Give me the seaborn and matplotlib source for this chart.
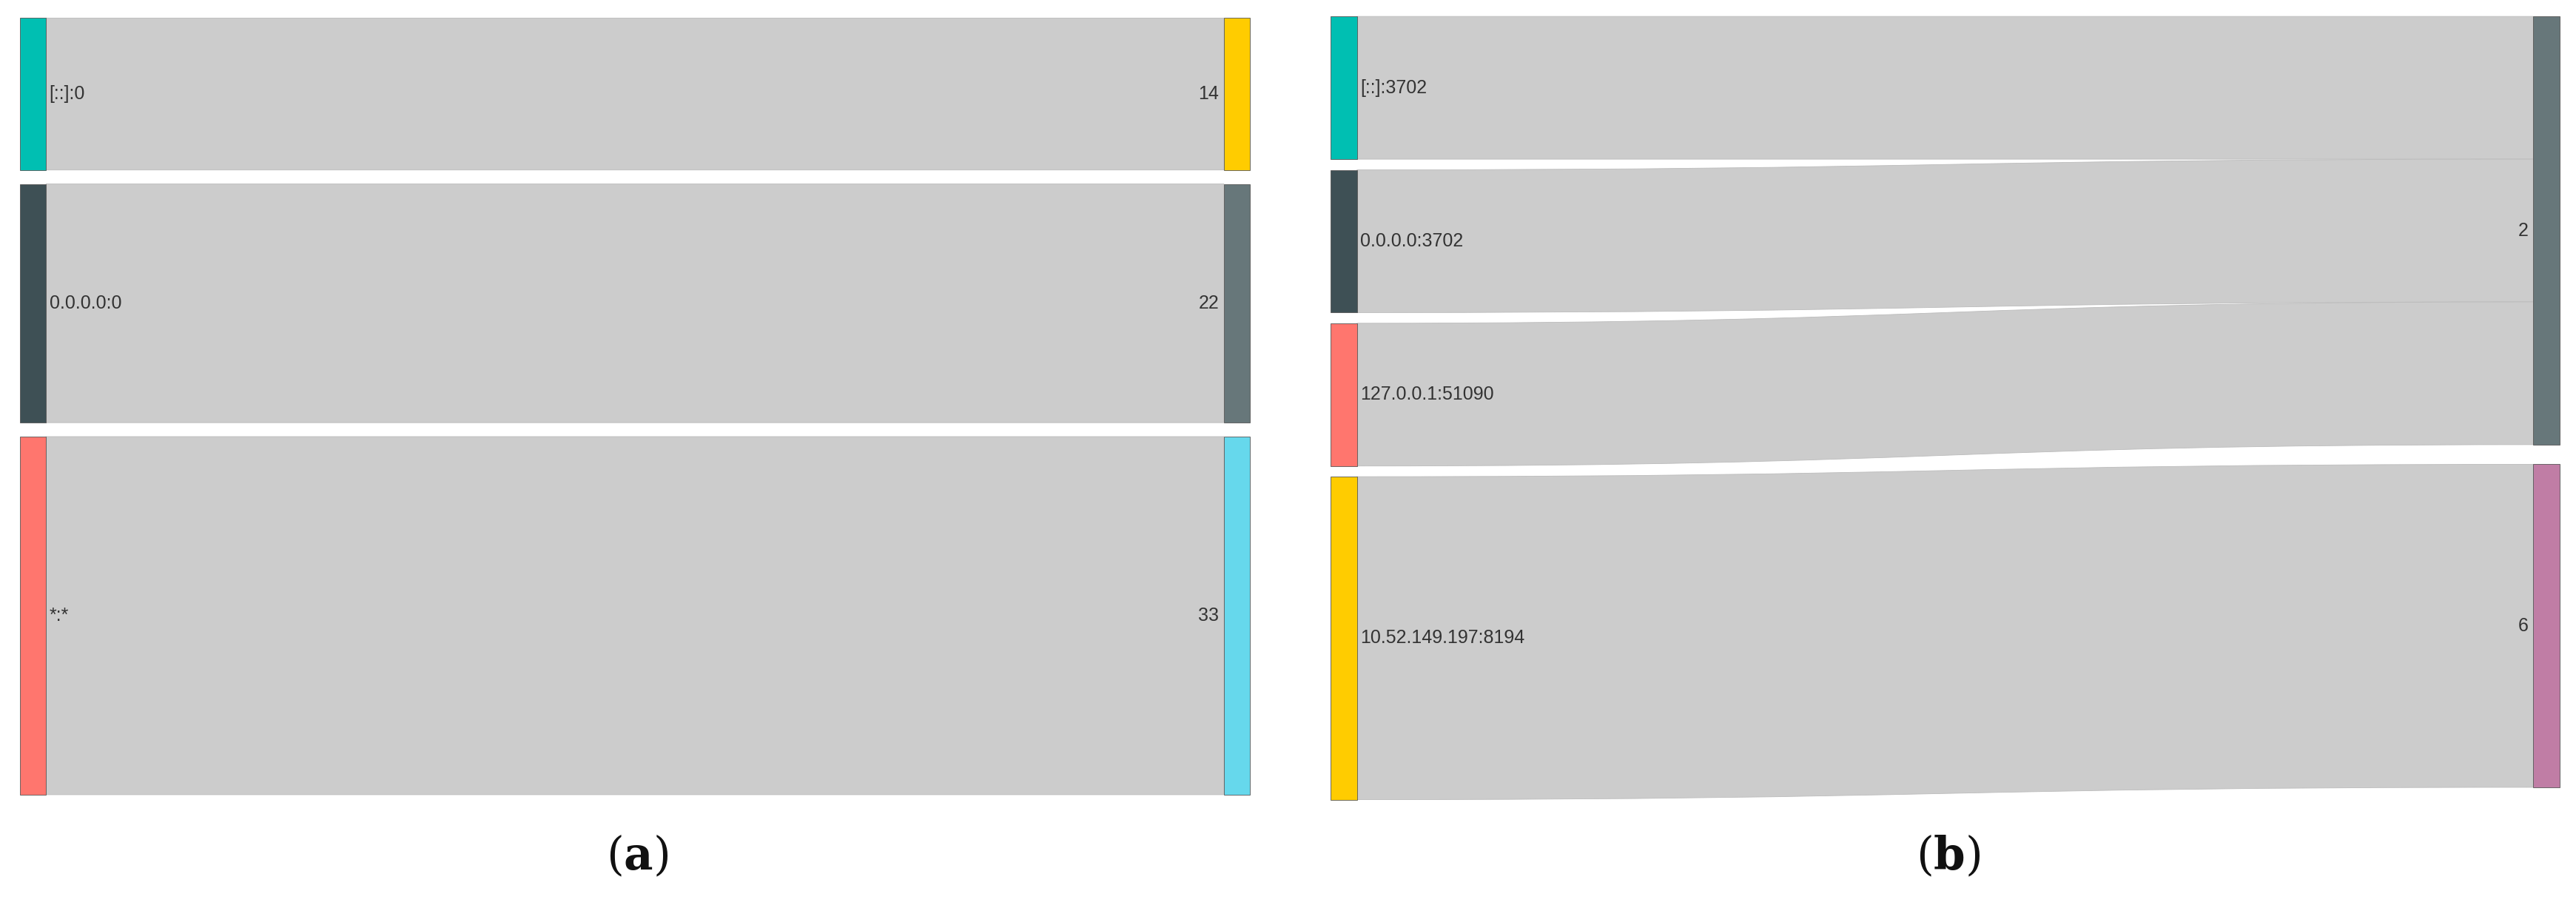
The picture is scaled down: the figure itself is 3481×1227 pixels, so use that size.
import numpy as np
import matplotlib
matplotlib.use("Agg")
import matplotlib.pyplot as plt
import seaborn as sns
from matplotlib.path import Path
from matplotlib.patches import PathPatch, Rectangle

sns.set_theme(style="white")
plt.rcParams['font.family'] = ['Liberation Sans', 'DejaVu Sans']
plt.rcParams['mathtext.fontset'] = 'dejavuserif'

# ---- data ----
a_sources = ["[::]:0", "0.0.0.0:0", "*:*"]
a_targets = ["14", "22", "33"]
a_values = [14, 22, 33]
a_src_colors = ["#00BFB2", "#3E5055", "#FF766E"]
a_tgt_colors = ["#FFCC00", "#67777A", "#66D8EC"]

b_sources = ["[::]:3702", "0.0.0.0:3702", "127.0.0.1:51090", "10.52.149.197:8194"]
b_targets = ["2", "6"]
b_link_src = [0, 1, 2, 3]
b_link_tgt = [0, 0, 0, 1]
b_values = [4.0, 4.0, 4.0, 9.05]
b_src_colors = ["#00BFB2", "#3E5055", "#FF766E", "#FFCC00"]
b_tgt_colors = ["#67777A", "#C07DA5"]

W, H = 1568, 553
fig = plt.figure(figsize=(34.81, 12.27), dpi=100)
ax = fig.add_axes([0, 0, 1, 1])
ax.set_xlim(0, W); ax.set_ylim(H, 0); ax.axis("off")

NODE_W = 16
LINK_C = "#CCCCCC"

def layout(vals, y0, y1, pad):
    scale = (y1 - y0 - pad * (len(vals) - 1)) / sum(vals)
    pos, y = [], y0
    for v in vals:
        pos.append((y, y + v * scale)); y += v * scale + pad
    return pos, scale

def ribbon(x0, x1, s0, s1, t0, t1):
    xm = (x0 + x1) / 2
    verts = [(x0, s0), (xm, s0), (xm, t0), (x1, t0), (x1, t1), (xm, t1), (xm, s1), (x0, s1), (x0, s0)]
    codes = [Path.MOVETO, Path.CURVE4, Path.CURVE4, Path.CURVE4, Path.LINETO,
             Path.CURVE4, Path.CURVE4, Path.CURVE4, Path.CLOSEPOLY]
    ax.add_patch(PathPatch(Path(verts, codes), fc=LINK_C, ec="#BBBBBB", lw=0.6, zorder=1))

def node(x, y0, y1, c):
    ax.add_patch(Rectangle((x, y0), NODE_W, y1 - y0, fc=c, ec="#555555", lw=0.6, zorder=2))

def sankey(xl, xr, y0, y1, src_names, tgt_names, link_src, link_tgt, vals, sc, tc, pad, tpad):
    src_vals = [sum(v for s, v in zip(link_src, vals) if s == i) for i in range(len(src_names))]
    tgt_vals = [sum(v for t, v in zip(link_tgt, vals) if t == j) for j in range(len(tgt_names))]
    spos, scale = layout(src_vals, y0, y1, pad)
    tpos = []
    y = y0
    for v in tgt_vals:
        tpos.append((y, y + v * scale)); y += v * scale + tpad
    soff = [p[0] for p in spos]; toff = [p[0] for p in tpos]
    for s, t, v in zip(link_src, link_tgt, vals):
        h = v * scale
        ribbon(xl + NODE_W, xr, soff[s], soff[s] + h, toff[t], toff[t] + h)
        soff[s] += h; toff[t] += h
    for (a, b), c, n in zip(spos, sc, src_names):
        node(xl, a, b, c)
        ax.text(xl + NODE_W + 2, (a + b) / 2, n, ha="left", va="center", fontsize=18, color="#333333", zorder=3)
    for (a, b), c, n in zip(tpos, tc, tgt_names):
        node(xr, a, b, c)
        ax.text(xr - 3, (a + b) / 2, n, ha="right", va="center", fontsize=18, color="#333333", zorder=3)

sankey(12, 745, 11, 484, a_sources, a_targets, [0, 1, 2], [0, 1, 2], a_values,
       a_src_colors, a_tgt_colors, 8.5, 8.5)
sankey(810, 1542, 10, 487, b_sources, b_targets, b_link_src, b_link_tgt, b_values,
       b_src_colors, b_tgt_colors, 6.5, 12)

for x, lab in [(388, "a"), (1186, "b")]:
    ax.text(x, 522, r"($\mathbf{%s}$)" % lab, ha="center", va="center", fontsize=44,
            family="DejaVu Serif", color="#111111")

fig.savefig("out.png", dpi=100)
